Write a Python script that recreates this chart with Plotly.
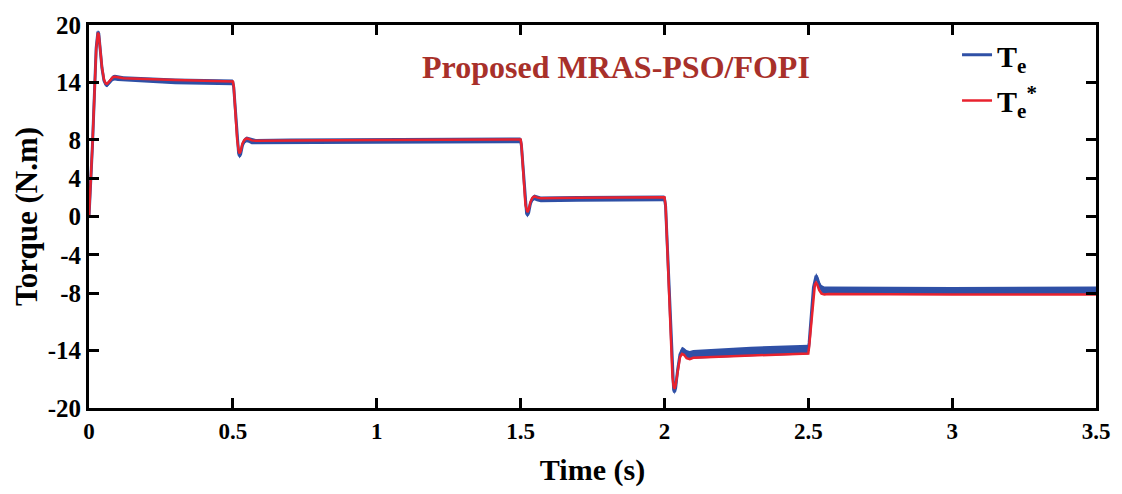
import plotly.graph_objects as go

# Time instants (s) of the torque response breakpoints
t_pts = [0, 0.012, 0.025, 0.029, 0.031, 0.034, 0.038, 0.045, 0.052, 0.058,
         0.063, 0.068, 0.075, 0.083, 0.09, 0.1, 0.12, 0.3, 0.5,
         0.503, 0.515, 0.52, 0.523, 0.527, 0.533, 0.54, 0.548, 0.555, 0.565,
         0.58, 0.7, 1.0, 1.5,
         1.503, 1.517, 1.521, 1.524, 1.528, 1.534, 1.541, 1.548, 1.556, 1.57,
         1.7, 2.0,
         2.004, 2.028, 2.032, 2.035, 2.039, 2.046, 2.054, 2.061, 2.068, 2.077,
         2.088, 2.1, 2.3, 2.5,
         2.503, 2.518, 2.523, 2.527, 2.531, 2.538, 2.546, 2.556, 2.57, 3.0, 3.5]

# Reference torque Te* (N.m)
te_ref = [0, 7.5, 17.5, 18.9, 19.2, 19.0, 17.8, 15.6, 14.3, 13.9,
          13.85, 14.0, 14.3, 14.55, 14.6, 14.55, 14.45, 14.25, 14.1,
          13.6, 8.0, 6.9, 6.6, 6.8, 7.6, 8.0, 8.15, 8.1, 7.95,
          7.9, 7.95, 8.0, 8.05,
          7.5, 1.2, 0.6, 0.45, 0.7, 1.5, 1.95, 2.1, 2.0, 1.9,
          1.95, 2.0,
          1.2, -16.8, -17.8, -18.0, -17.6, -16.0, -14.7, -14.35, -14.45, -14.8,
          -14.9, -14.75, -14.5, -14.3,
          -13.6, -8.0, -7.1, -6.9, -7.1, -7.7, -8.05, -8.15, -8.1, -8.15, -8.15]

# Electromagnetic torque Te: mean value (N.m)
te_mid = [0, 7.4, 17.6, 19.0, 19.3, 19.1, 17.8, 15.5, 14.2, 13.8,
          13.75, 13.9, 14.2, 14.45, 14.5, 14.45, 14.35, 14.1, 14.0,
          13.5, 7.8, 6.6, 6.3, 6.5, 7.4, 7.9, 8.05, 8.0, 7.85,
          7.8, 7.85, 7.9, 7.95,
          7.4, 1.0, 0.3, 0.15, 0.4, 1.3, 1.85, 2.0, 1.9, 1.8,
          1.85, 1.9,
          1.1, -17.0, -18.1, -18.35, -17.9, -16.0, -14.4, -14.0, -14.1, -14.4,
          -14.5, -14.4, -14.1, -13.9,
          -13.2, -7.4, -6.5, -6.2, -6.4, -7.1, -7.55, -7.7, -7.7, -7.75, -7.7]

# Electromagnetic torque Te: ripple half-width (N.m)
te_ripple = [0.1, 0.15, 0.2, 0.2, 0.2, 0.2, 0.2, 0.2, 0.25, 0.25,
             0.25, 0.25, 0.3, 0.3, 0.3, 0.3, 0.3, 0.3, 0.3,
             0.25, 0.25, 0.25, 0.25, 0.25, 0.3, 0.3, 0.3, 0.3, 0.3,
             0.3, 0.3, 0.3, 0.3,
             0.25, 0.25, 0.25, 0.25, 0.25, 0.3, 0.3, 0.3, 0.3, 0.3,
             0.3, 0.3,
             0.25, 0.25, 0.25, 0.25, 0.25, 0.3, 0.35, 0.4, 0.4, 0.45,
             0.45, 0.45, 0.5, 0.5,
             0.3, 0.3, 0.3, 0.3, 0.3, 0.35, 0.4, 0.4, 0.4, 0.4, 0.4]

x_ticks = [0, 0.5, 1, 1.5, 2, 2.5, 3, 3.5]
x_tick_text = ["0", "0.5", "1", "1.5", "2", "2.5", "3", "3.5"]
y_ticks = [20, 14, 8, 4, 0, -4, -8, -14, -20]
y_tick_text = ["20", "14", "8", "4", "0", "-4", "-8", "-14", "-20"]

BLUE = "#2f50a6"
RED = "#e8222e"
FONT = "Liberation Serif"

te_hi = [m + r for m, r in zip(te_mid, te_ripple)]
te_lo = [m - r for m, r in zip(te_mid, te_ripple)]

fig = go.Figure()

# Ripple band of the measured torque
fig.add_trace(go.Scatter(
    x=t_pts + t_pts[::-1], y=te_hi + te_lo[::-1],
    fill="toself", fillcolor=BLUE, line=dict(width=0),
    mode="lines", showlegend=False, hoverinfo="skip"))

fig.add_trace(go.Scatter(
    x=t_pts, y=te_mid, mode="lines", name="<b>T<sub>e</sub></b>",
    line=dict(color=BLUE, width=3), legend="legend"))

fig.add_trace(go.Scatter(
    x=t_pts, y=te_ref, mode="lines", name="<b>T<sub>e</sub><sup>*</sup></b>",
    line=dict(color=RED, width=2.5), legend="legend2"))

fig.add_annotation(
    x=1.83, y=15.6, xref="x", yref="y",
    text="<b>Proposed MRAS-PSO/FOPI</b>", showarrow=False,
    font=dict(family=FONT, size=32, color="#a8302a"))

axis_common = dict(
    showline=True, linecolor="black", linewidth=3, mirror="ticks",
    ticks="inside", ticklen=10, tickwidth=3, tickcolor="black",
    showgrid=False, zeroline=False)

fig.update_xaxes(
    range=[0, 3.5], tickvals=x_ticks, ticktext=x_tick_text,
    tickfont=dict(family=FONT, size=23, color="black", weight="bold"),
    title=dict(text="<b>Time (s)</b>", font=dict(family=FONT, size=30, color="black"), standoff=17),
    **axis_common)
fig.update_yaxes(
    range=[-20, 20], tickvals=y_ticks, ticktext=y_tick_text,
    tickfont=dict(family=FONT, size=25, color="black", weight="bold"),
    title=dict(text="<b>Torque (N.m)</b>", font=dict(family=FONT, size=31, color="black"), standoff=1),
    **axis_common)

legend_style = dict(
    xanchor="left", yanchor="top", bgcolor="rgba(0,0,0,0)", borderwidth=0,
    font=dict(family=FONT, size=30, color="black"), itemwidth=30)

fig.update_layout(
    width=1122, height=494,
    margin=dict(l=89, r=23, t=14, b=84),
    paper_bgcolor="white", plot_bgcolor="white",
    font=dict(family=FONT, color="black"),
    legend=dict(x=0.862, y=0.99, **legend_style),
    legend2=dict(x=0.862, y=0.871, **legend_style),
    showlegend=True)

fig.write_html("out.html")
